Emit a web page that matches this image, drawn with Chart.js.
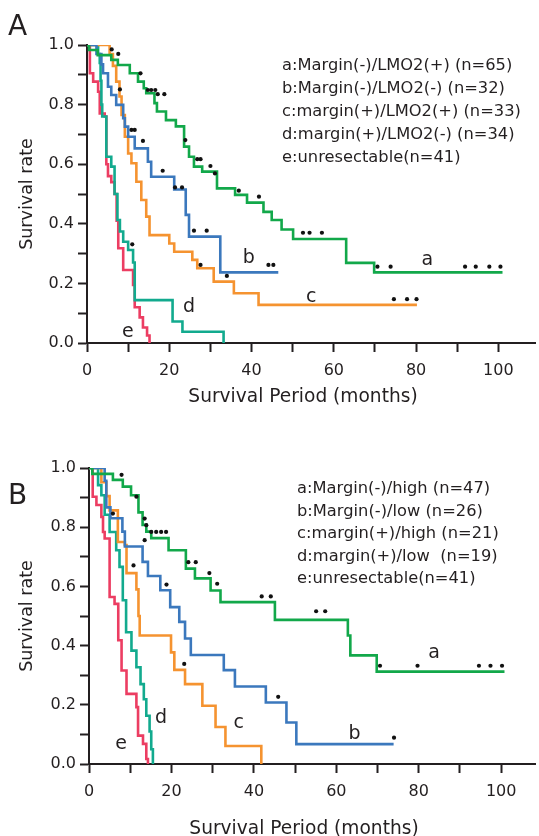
<!DOCTYPE html>
<html>
<head>
<meta charset="utf-8">
<script src="https://cdn.jsdelivr.net/npm/chart.js@4.4.0/dist/chart.umd.min.js"></script>
<style>
  html, body { margin: 0; padding: 0; background: #fff; width: 539px; height: 836px; overflow: hidden; }
  #wrapA { position: absolute; left: 0; top: 0; }
  #wrapB { position: absolute; left: 0; top: 418px; }
</style>
</head>
<body>
<div id="wrapA"><canvas id="chartA" width="539" height="418"></canvas></div>
<div id="wrapB"><canvas id="chartB" width="539" height="430"></canvas></div>
<script>
// Kaplan-Meier curves, [month, survival after the step]
const curveA_a = [[0,1],[0.5,0.983],[2.6,0.966],[5.9,0.95],[7.5,0.933],[10.4,0.905],[12.4,0.877],[13.8,0.855],[14.4,0.838],[16.4,0.805],[17.0,0.777],[19.2,0.748],[21.6,0.727],[23.6,0.659],[24.8,0.625],[26.0,0.592],[28.0,0.575],[31.6,0.519],[36.0,0.497],[38.9,0.471],[42.9,0.44],[44.9,0.413],[47.3,0.381],[50.1,0.349],[63.0,0.269],[69.8,0.237],[101,0.237]];
const curveA_b = [[0,1],[2.3,0.97],[3.5,0.935],[3.9,0.905],[5.1,0.86],[5.9,0.832],[7.1,0.799],[8.8,0.754],[9.2,0.726],[10,0.692],[11.6,0.653],[14.8,0.608],[15.6,0.558],[21.2,0.515],[24.0,0.43],[24.8,0.357],[32.4,0.237],[46.5,0.237]];
const curveA_c = [[0,1],[5.5,0.97],[6.3,0.93],[7.1,0.877],[7.9,0.827],[8.4,0.765],[9.2,0.692],[10,0.636],[10.8,0.603],[12,0.541],[13.2,0.48],[14.4,0.424],[15.2,0.362],[20,0.334],[21.2,0.306],[25.6,0.279],[26.8,0.251],[30.8,0.206],[35.7,0.167],[41.7,0.128],[80.2,0.128]];
const curveA_d = [[0,1],[2.7,0.97],[3.1,0.94],[3.3,0.88],[3.5,0.8],[3.7,0.76],[4.7,0.625],[5.9,0.592],[6.7,0.5],[7.4,0.413],[8.0,0.374],[8.8,0.34],[10,0.312],[11.2,0.27],[11.6,0.144],[20.8,0.072],[23.2,0.038],[33.2,0]];
const curveA_e = [[0,1],[0.7,0.905],[1.5,0.877],[2.7,0.843],[3.1,0.77],[4.3,0.76],[4.7,0.6],[5.1,0.56],[5.9,0.54],[6.7,0.5],[7.2,0.41],[7.6,0.318],[8.8,0.245],[11.2,0.195],[11.6,0.12],[12.8,0.086],[13.6,0.052],[14.6,0.025],[15.2,0]];
const censorA = [[6.0,0.985],[7.6,0.97],[13.0,0.905],[14.8,0.849],[15.6,0.849],[16.6,0.849],[17.2,0.835],[18.8,0.835],[23.9,0.681],[26.8,0.617],[27.6,0.617],[30.0,0.594],[31.1,0.569],[36.9,0.511],[41.8,0.491],[52.5,0.37],[54.1,0.37],[57.1,0.37],[70.6,0.256],[73.8,0.256],[91.9,0.256],[94.5,0.256],[97.8,0.256],[100.5,0.256],
  [10.8,0.715],[11.6,0.715],[13.6,0.678],[18.4,0.578],[21.4,0.522],[23.1,0.522],[26,0.377],[29.1,0.377],[34,0.225],[44.1,0.262],[45.3,0.262],
  [8,0.851],[27.6,0.262],[74.6,0.147],[77.8,0.147],[80.1,0.147],
  [11,0.331]];

const curveB_a = [[0,1],[0.8,0.98],[5.8,0.96],[8.2,0.937],[10.2,0.908],[12.0,0.85],[13.0,0.808],[13.9,0.785],[15.1,0.763],[19.3,0.722],[23.5,0.66],[25.7,0.627],[29.5,0.586],[31.9,0.547],[45.1,0.487],[62.8,0.434],[63.4,0.367],[69.8,0.312],[100.8,0.312]];
const curveB_b = [[0,1],[3.8,0.957],[4.2,0.867],[5.2,0.83],[8.1,0.785],[8.7,0.735],[13,0.683],[14.3,0.635],[17.3,0.587],[19.7,0.53],[21.9,0.48],[23.3,0.424],[24.7,0.368],[32.7,0.317],[35.4,0.262],[42.9,0.208],[47.9,0.14],[50.3,0.067],[73.9,0.067]];
const curveB_c = [[0,1],[3.0,0.952],[4.2,0.905],[5.0,0.857],[7.0,0.75],[8.7,0.74],[9.1,0.645],[11.5,0.59],[12.0,0.5],[12.3,0.434],[19.9,0.377],[20.7,0.318],[23.3,0.27],[27.5,0.197],[30.7,0.125],[33.1,0.061],[41.8,0]];
const curveB_d = [[0,1],[2.2,0.942],[3.0,0.908],[3.8,0.842],[5.0,0.784],[6.6,0.722],[7.4,0.666],[8.2,0.553],[9.0,0.445],[10.3,0.383],[11.5,0.327],[12.5,0.27],[13.3,0.219],[13.9,0.163],[14.7,0.11],[15.1,0.05],[15.5,0]];
const curveB_e = [[0,1],[0.9,0.903],[1.8,0.875],[3.0,0.835],[3.4,0.784],[3.8,0.762],[5.0,0.564],[6.2,0.541],[7.1,0.418],[7.9,0.316],[9.1,0.237],[11.5,0.192],[11.9,0.096],[13.1,0.068],[13.9,0.017],[14.3,0]];
const censorB = [[7.9,0.977],[11.5,0.903],[13.5,0.829],[13.9,0.807],[15.1,0.784],[16.3,0.784],[17.5,0.784],[18.7,0.784],[13.5,0.756],[24.1,0.682],[25.9,0.682],[29.2,0.645],[31.1,0.609],[41.9,0.566],[44.1,0.566],[55.1,0.516],[57.3,0.516],[70.6,0.332],[79.7,0.332],[94.6,0.332],[97.4,0.332],[100.2,0.332],
  [5.8,0.846],[10.8,0.671],[18.8,0.606],[45.9,0.227],[74,0.089],
  [23.1,0.338]];

const curveNames = ["a", "b", "c", "d", "e"];
const legendA = ["a:Margin(-)/LMO2(+) (n=65)", "b:Margin(-)/LMO2(-) (n=32)", "c:margin(+)/LMO2(+) (n=33)", "d:margin(+)/LMO2(-) (n=34)", "e:unresectable(n=41)"];
const legendB = ["a:Margin(-)/high (n=47)", "b:Margin(-)/low (n=26)", "c:margin(+)/high (n=21)", "d:margin(+)/low  (n=19)", "e:unresectable(n=41)"];

const COLORS = ["#12a84a", "#3b78bd", "#f59330", "#12aa8e", "#ec3d62"];
const INK = "#231f20";
const FONT = "'DejaVu Sans', sans-serif";

const textPlugin = {
  id: "panelText",
  afterDraw(chart, args, o) {
    const ctx = chart.ctx;
    const xs = chart.scales.x, ys = chart.scales.y;
    ctx.save();
    ctx.fillStyle = INK;
    ctx.textBaseline = "alphabetic";
    ctx.textAlign = "left";
    ctx.font = "28px " + FONT;
    ctx.fillText(o.letter, 8, o.letterY);
    ctx.font = "16.3px " + FONT;
    o.legend.forEach((t, i) => ctx.fillText(t, o.legendX, o.legendY + i * o.legendStep));
    ctx.font = "19px " + FONT;
    ctx.textAlign = "center";
    curveNames.forEach((t, i) => {
      const p = o.labelAt[i];
      ctx.fillText(t, xs.getPixelForValue(p[0]), ys.getPixelForValue(p[1]));
    });
    ctx.font = "18.6px " + FONT;
    ctx.textBaseline = "middle";
    ctx.fillText("Survival Period (months)", o.titleX, o.titleY);
    ctx.restore();
  }
};

function makePanel(id, curves, censor, cfg) {
  const datasets = [{
    type: "scatter",
    data: censor.map(p => ({ x: p[0], y: p[1] })),
    pointRadius: 2.1,
    pointStyle: "circle",
    backgroundColor: "#111",
    borderWidth: 0,
    showLine: false
  }];
  curves.forEach((c, i) => {
    datasets.push({
      type: "line",
      data: c.map(p => ({ x: p[0], y: p[1] })),
      stepped: "before",
      borderColor: COLORS[i],
      borderWidth: 2.6,
      pointRadius: 0,
      fill: false
    });
  });

  const axisGrid = { drawOnChartArea: false, drawTicks: true, tickLength: 9, tickWidth: 2, tickColor: INK };
  return new Chart(document.getElementById(id), {
    data: { datasets },
    plugins: [textPlugin],
    options: {
      responsive: false,
      animation: false,
      layout: { padding: { top: cfg.top, left: 0, right: 0, bottom: 0 } },
      plugins: {
        legend: { display: false },
        tooltip: { enabled: false },
        panelText: cfg.text
      },
      scales: {
        x: {
          type: "linear",
          min: 0,
          max: cfg.xMax,
          afterFit: s => { s.height = cfg.xHeight; },
          border: { color: INK, width: 2 },
          grid: axisGrid,
          ticks: {
            stepSize: 10,
            includeBounds: false,
            autoSkip: false,
            maxRotation: 0,
            padding: 9,
            color: INK,
            font: { family: FONT, size: 16 },
            callback: v => (v % 20 === 0 ? String(v) : "")
          }
        },
        y: {
          type: "linear",
          min: 0,
          max: 1,
          afterFit: s => { s.width = cfg.yWidth; },
          border: { color: INK, width: 2 },
          grid: axisGrid,
          title: {
            display: true,
            text: "Survival rate",
            color: INK,
            font: { family: FONT, size: 17.5 },
            padding: { top: 17, bottom: 0 }
          },
          ticks: {
            stepSize: 0.1,
            autoSkip: false,
            padding: 4,
            color: INK,
            font: { family: FONT, size: 16 },
            callback: v => (Math.round(v * 10) % 2 === 0 ? v.toFixed(1) : "")
          }
        }
      }
    }
  });
}

makePanel("chartA", [curveA_a, curveA_b, curveA_c, curveA_d, curveA_e], censorA, {
  top: 45, xHeight: 75, yWidth: 87, xMax: 108.9,
  text: {
    letter: "A", letterY: 35,
    legend: legendA, legendX: 282, legendY: 70, legendStep: 23.1,
    labelAt: [[82.7, 0.262], [39.3, 0.268], [54.5, 0.138], [24.8, 0.104], [9.9, 0.02]],
    titleX: 303, titleY: 397
  }
});

makePanel("chartB", [curveB_a, curveB_b, curveB_c, curveB_d, curveB_e], censorB, {
  top: 50, xHeight: 84, yWidth: 89, xMax: 108.2,
  text: {
    letter: "B", letterY: 86,
    legend: legendB, legendX: 297, legendY: 75, legendStep: 22.5,
    labelAt: [[83.7, 0.359], [64.4, 0.085], [36.3, 0.122], [17.5, 0.139], [7.8, 0.051]],
    titleX: 304, titleY: 411
  }
});
</script>
</body>
</html>
